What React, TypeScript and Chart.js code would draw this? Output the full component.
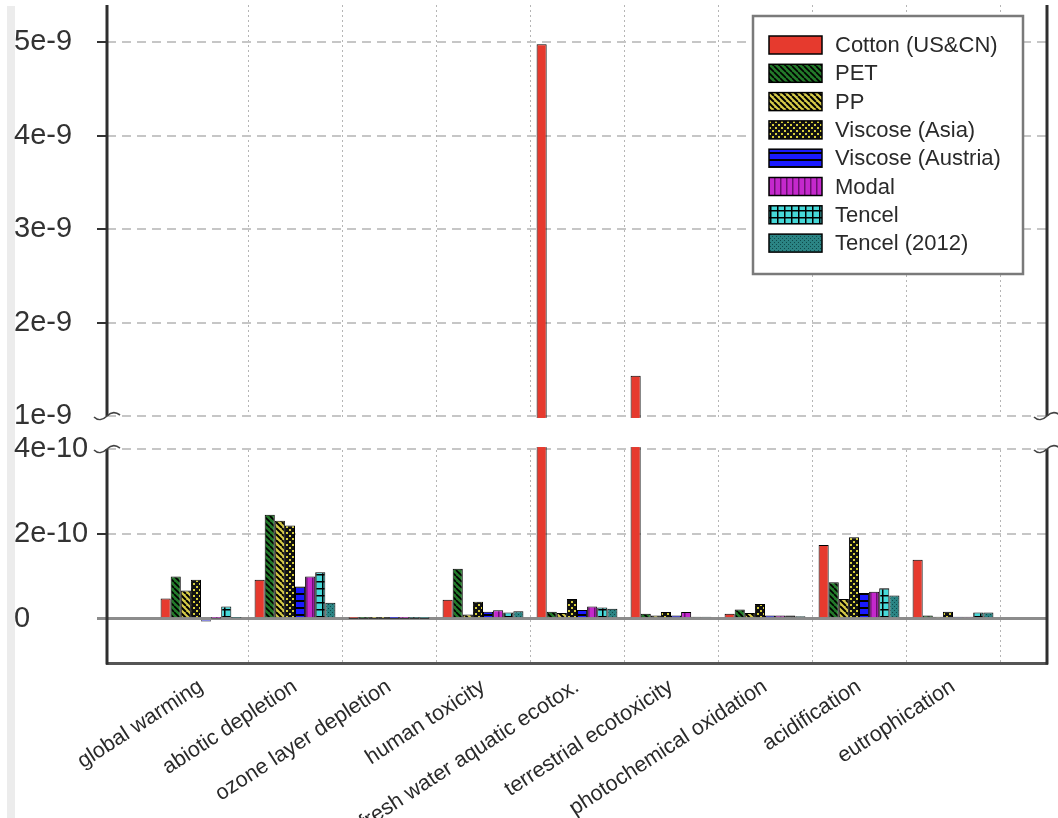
import React, { useEffect, useRef } from 'react';
import { Chart, registerables, LinearScale } from 'chart.js';

// ---------- data ----------
const categories = [
  'global warming',
  'abiotic depletion',
  'ozone layer depletion',
  'human toxicity',
  'fresh water aquatic ecotox.',
  'terrestrial ecotoxicity',
  'photochemical oxidation',
  'acidification',
  'eutrophication',
];

const seriesNames = [
  'Cotton (US&CN)',
  'PET',
  'PP',
  'Viscose (Asia)',
  'Viscose (Austria)',
  'Modal',
  'Tencel',
  'Tencel (2012)',
];

const cotton = [4.8e-11, 9.2e-11, 5e-13, 4.5e-11, 4.98e-9, 1.43e-9, 1.2e-11, 1.74e-10, 1.39e-10];
const pet = [1.0e-10, 2.45e-10, 5e-13, 1.18e-10, 1.7e-11, 1.2e-11, 2.2e-11, 8.6e-11, 8e-12];
const pp = [6.7e-11, 2.31e-10, 3e-13, 1.0e-11, 1.4e-11, 8e-12, 1.4e-11, 4.7e-11, 5e-12];
const viscoseAsia = [9.2e-11, 2.2e-10, 5e-13, 4.0e-11, 4.7e-11, 1.6e-11, 3.5e-11, 1.92e-10, 1.7e-11];
const viscoseAustria = [-6e-12, 7.6e-11, 2e-13, 1.7e-11, 2.1e-11, 8e-12, 8e-12, 6.1e-11, 5e-12];
const modal = [1e-12, 1.0e-10, 2e-13, 2.0e-11, 2.9e-11, 1.6e-11, 8e-12, 6.4e-11, 5e-12];
const tencel = [2.9e-11, 1.1e-10, 2e-13, 1.5e-11, 2.7e-11, 5e-12, 8e-12, 7.2e-11, 1.5e-11];
const tencel2012 = [2e-12, 3.8e-11, 2e-13, 1.8e-11, 2.4e-11, 5e-12, 6e-12, 5.5e-11, 1.5e-11];

const seriesValues = [cotton, pet, pp, viscoseAsia, viscoseAustria, modal, tencel, tencel2012];

const yTicks = [0, 2e-10, 4e-10, 1e-9, 2e-9, 3e-9, 4e-9, 5e-9];
const Y_MIN = -1.04e-10;
const Y_MAX = 5.4e-9;
const BREAK_LOW = 4e-10;
const BREAK_HIGH = 1e-9;

// ---------- layout constants ----------
const LOWER_SHARE = 0.3252;
const GAP_SHARE = 0.0502;
const FONT = '"Liberation Sans", Arial, Helvetica, sans-serif';

// ---------- broken linear scale ----------
class BrokenScale extends (LinearScale as any) {
  static id = 'broken';
  static defaults = {};
  getPixelForValue(value: any) {
    if (value === null || value === undefined || isNaN(value)) return NaN;
    const top = (this as any).top;
    const bottom = (this as any).bottom;
    const h = bottom - top;
    const pLow = bottom - LOWER_SHARE * h;
    const pHigh = pLow - GAP_SHARE * h;
    const min = (this as any).min;
    const max = (this as any).max;
    if (value <= BREAK_LOW) return bottom - ((value - min) / (BREAK_LOW - min)) * (bottom - pLow);
    if (value >= BREAK_HIGH) return pHigh - ((value - BREAK_HIGH) / (max - BREAK_HIGH)) * (pHigh - top);
    return pLow - ((value - BREAK_LOW) / (BREAK_HIGH - BREAK_LOW)) * (pLow - pHigh);
  }
  getValueForPixel(pixel: number) {
    const top = (this as any).top;
    const bottom = (this as any).bottom;
    const h = bottom - top;
    const pLow = bottom - LOWER_SHARE * h;
    const pHigh = pLow - GAP_SHARE * h;
    const min = (this as any).min;
    const max = (this as any).max;
    if (pixel >= pLow) return min + ((bottom - pixel) / (bottom - pLow)) * (BREAK_LOW - min);
    if (pixel <= pHigh) return BREAK_HIGH + ((pHigh - pixel) / (pHigh - top)) * (max - BREAK_HIGH);
    return BREAK_LOW + ((pLow - pixel) / (pLow - pHigh)) * (BREAK_HIGH - BREAK_LOW);
  }
}

Chart.register(...registerables);
Chart.registry.addScales(BrokenScale as any);

// ---------- patterns ----------
function pat(size: number, bg: string, draw?: (g: CanvasRenderingContext2D, s: number) => void) {
  const c = document.createElement('canvas');
  c.width = size;
  c.height = size;
  const g = c.getContext('2d')!;
  g.fillStyle = bg;
  g.fillRect(0, 0, size, size);
  if (draw) draw(g, size);
  return g.createPattern(c, 'repeat')!;
}

function diag(g: CanvasRenderingContext2D, s: number, color: string, w: number) {
  g.strokeStyle = color;
  g.lineWidth = w;
  for (const k of [-s, 0, s]) {
    g.beginPath();
    g.moveTo(k, 0);
    g.lineTo(k + s, s);
    g.stroke();
  }
}

function makeFills() {
  return [
    '#e63a2e',
    pat(6, '#237a2a', (g, s) => diag(g, s, '#000', 1.7)),
    pat(6, '#d6cb48', (g, s) => diag(g, s, '#000', 2)),
    pat(6, '#111', (g) => {
      g.fillStyle = '#d8cf3a';
      g.fillRect(1, 1, 2, 2);
      g.fillRect(4, 4, 2, 2);
    }),
    pat(7, '#1a1aff', (g) => {
      g.fillStyle = '#000';
      g.fillRect(0, 5, 7, 2);
    }),
    pat(6, '#c428cc', (g) => {
      g.fillStyle = '#6a1070';
      g.fillRect(0, 0, 1.5, 6);
    }),
    pat(7, '#46d8d8', (g) => {
      g.fillStyle = '#000';
      g.fillRect(0, 0, 7, 1.5);
      g.fillRect(0, 0, 1.5, 7);
    }),
    pat(4, '#2b8484', (g) => {
      g.fillStyle = '#0f4a4a';
      g.fillRect(0, 0, 1, 1);
      g.fillRect(2, 2, 1, 1);
    }),
  ];
}

function squiggle(ctx: CanvasRenderingContext2D, x: number, y: number) {
  ctx.beginPath();
  ctx.moveTo(x - 13, y + 1);
  ctx.bezierCurveTo(x - 9, y + 5, x - 4, y + 4, x, y);
  ctx.bezierCurveTo(x + 4, y - 4, x + 9, y - 4, x + 13, y - 1);
  ctx.stroke();
}

const brokenAxisPlugin = {
  id: 'brokenAxis',
  beforeDraw(chart: any) {
    const ctx = chart.ctx;
    ctx.save();
    ctx.fillStyle = '#ececec';
    ctx.fillRect(7, 6, 8, chart.height - 6);
    ctx.restore();
  },
  afterDatasetsDraw(chart: any) {
    const { ctx, chartArea } = chart;
    const { left, right, top, bottom } = chartArea;
    const y = chart.scales.y;
    const yHi = y.getPixelForValue(BREAK_HIGH);
    const yLo = y.getPixelForValue(BREAK_LOW);
    ctx.save();
    ctx.fillStyle = '#fff';
    ctx.fillRect(left - 2, yHi + 2, right - left + 4, yLo - yHi - 4);
    ctx.strokeStyle = '#2e2e2e';
    ctx.lineWidth = 3;
    for (const x of [left, right]) {
      ctx.beginPath();
      ctx.moveTo(x, top);
      ctx.lineTo(x, yHi);
      ctx.moveTo(x, yLo);
      ctx.lineTo(x, bottom + 1.5);
      ctx.stroke();
    }
    ctx.lineWidth = 1.6;
    ctx.strokeStyle = '#444';
    for (const x of [left, right]) {
      squiggle(ctx, x, yHi);
      squiggle(ctx, x, yLo);
    }
    ctx.restore();
  },
  afterDraw(chart: any) {
    const { ctx, chartArea } = chart;
    const w = 270;
    const h = 258;
    const x0 = chartArea.right - 24 - w;
    const y0 = chartArea.top + 11;
    ctx.save();
    ctx.fillStyle = '#fff';
    ctx.fillRect(x0, y0, w, h);
    ctx.strokeStyle = '#7a7a7a';
    ctx.lineWidth = 2.5;
    ctx.strokeRect(x0, y0, w, h);
    ctx.font = '22px ' + FONT;
    ctx.textBaseline = 'middle';
    ctx.textAlign = 'left';
    chart.data.datasets.forEach((ds: any, i: number) => {
      const sy = y0 + 20 + i * 28.3;
      ctx.fillStyle = ds.backgroundColor;
      ctx.fillRect(x0 + 16, sy, 53, 18);
      ctx.strokeStyle = '#000';
      ctx.lineWidth = 1.5;
      ctx.strokeRect(x0 + 16, sy, 53, 18);
      ctx.fillStyle = '#2a2a2a';
      ctx.fillText(ds.label, x0 + 82, sy + 10);
    });
    ctx.restore();
  },
};

export default function App() {
  const ref = useRef<HTMLCanvasElement>(null);
  useEffect(() => {
    const canvas = ref.current;
    if (!canvas) return;
    const fills = makeFills();
    const tv = (c: any) => (c && c.tick ? c.tick.value : NaN);
    const chart = new Chart(canvas, {
      type: 'bar',
      data: {
        datasets: seriesValues.map((vals, s) => ({
          label: seriesNames[s],
          data: vals.map((v, i) => ({ x: i, y: v })),
          backgroundColor: fills[s] as any,
          borderColor: '#000',
          borderWidth: 1,
          categoryPercentage: 0.86,
          barPercentage: 1,
        })),
      },
      options: {
        responsive: true,
        maintainAspectRatio: false,
        animation: false,
        events: [],
        layout: { padding: { left: 14, right: 11, top: 5, bottom: 0 } },
        plugins: { legend: { display: false }, tooltip: { enabled: false } },
        scales: {
          x: {
            type: 'linear',
            min: -1,
            max: categories.length,
            offset: false,
            afterBuildTicks: (s: any) => {
              s.ticks = categories.map((_, i) => ({ value: i }));
            },
            afterFit: (s: any) => {
              s.height = 155;
              s.paddingLeft = 0;
              s.paddingRight = 0;
            },
            ticks: {
              autoSkip: false,
              minRotation: 33,
              maxRotation: 33,
              padding: 11,
              color: '#2a2a2a',
              font: { family: FONT, size: 21.5 },
              callback: (v: any) => categories[Math.round(Number(v))] ?? '',
            },
            grid: {
              offset: true,
              drawTicks: false,
              lineWidth: 1,
              color: (c: any) =>
                c.index === 0 || c.index === categories.length ? 'rgba(0,0,0,0)' : '#b5b5b5',
            },
            border: { display: true, color: '#555', width: 3, dash: [2, 3] },
          },
          y: {
            type: 'broken' as any,
            min: Y_MIN,
            max: Y_MAX,
            bounds: 'data',
            afterBuildTicks: (s: any) => {
              s.ticks = yTicks.map((v) => ({ value: v }));
            },
            afterFit: (s: any) => {
              s.width = 93;
              s.paddingTop = 0;
              s.paddingBottom = 0;
            },
            ticks: {
              autoSkip: false,
              crossAlign: 'far',
              padding: 6,
              color: '#333',
              font: { family: FONT, size: 29 },
              callback: (v: any) => (Number(v) === 0 ? '0' : Number(v).toExponential()),
            },
            grid: {
              tickLength: 10,
              color: (c: any) => (tv(c) === 0 ? '#8c8c8c' : '#c6c6c6'),
              lineWidth: (c: any) => (tv(c) === 0 ? 3 : 2),
              tickColor: (c: any) => {
                const v = tv(c);
                if (v === BREAK_LOW || v === BREAK_HIGH) return 'rgba(0,0,0,0)';
                return v === 0 ? '#8c8c8c' : '#333';
              },
              tickWidth: (c: any) => (tv(c) === 0 ? 3 : 2),
            },
            border: {
              display: false,
              dash: (c: any) => (tv(c) === 0 ? [] : [9, 6]),
            },
          } as any,
        },
      },
      plugins: [brokenAxisPlugin],
    });
    return () => chart.destroy();
  }, []);
  return (
    <div style={{ position: 'fixed', left: 0, top: 0, width: 1058, height: 818, background: '#fff' }}>
      <canvas ref={ref} />
    </div>
  );
}
